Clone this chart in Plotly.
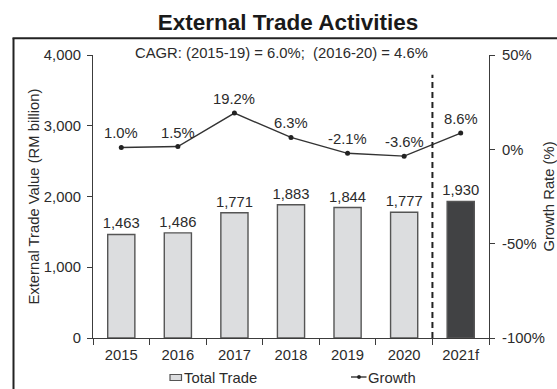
import plotly.graph_objects as go

# Data
years = ["2015", "2016", "2017", "2018", "2019", "2020", "2021f"]
total_trade = [1463, 1486, 1771, 1883, 1844, 1777, 1930]
growth = [1.0, 1.5, 19.2, 6.3, -2.1, -3.6, 8.6]
bar_colors = ["#dcdddf"] * 6 + ["#414244"]
left_ticks = [0, 1000, 2000, 3000, 4000]
right_ticks = [-100, -50, 0, 50]

FONT = "Liberation Sans, Arial, sans-serif"
TXT = "#2b2b2b"
AX = "#3c3c3c"
FS = 14.8

W, H = 557, 389
L, R, T, B = 93, 68, 55, 51
PW, PH = W - L - R, H - T - B


def px_x(px):
    return (px - L) / PW


def px_y(py):
    return (H - B - py) / PH


fig = go.Figure()

fig.add_trace(go.Bar(
    x=years, y=total_trade, name="Total Trade",
    marker=dict(color=bar_colors, line=dict(color="#555555", width=1.4)),
    width=0.48,
    text=[f"{v:,}" for v in total_trade], textposition="outside",
    constraintext="none",
    textfont=dict(size=FS, color=TXT, family=FONT),
    cliponaxis=False, showlegend=False,
))

fig.add_trace(go.Scatter(
    x=years, y=growth, yaxis="y2", name="Growth", mode="lines+markers",
    line=dict(color="#333333", width=1.4),
    marker=dict(color="#222222", size=5),
    showlegend=False,
))

annotations = []
for i, g in enumerate(growth):
    annotations.append(dict(
        x=i, y=g, xref="x", yref="y2", text=f"{g:.1f}%", showarrow=False,
        xanchor="center", yanchor="middle",
        yshift=14, font=dict(size=FS, color=TXT, family=FONT),
    ))

annotations += [
    dict(x=px_x(281.5), y=px_y(53), xref="paper", yref="paper",
         xanchor="center", yanchor="middle",
         text="CAGR: (2015-19) = 6.0%;&nbsp; (2016-20) = 4.6%",
         showarrow=False, font=dict(size=FS, color=TXT, family=FONT)),
    dict(x=px_x(182), y=px_y(377.5), xref="paper", yref="paper",
         xanchor="left", yanchor="middle", text="Total Trade", showarrow=False,
         font=dict(size=FS, color=TXT, family=FONT)),
    dict(x=px_x(366), y=px_y(377.5), xref="paper", yref="paper",
         xanchor="left", yanchor="middle", text="Growth", showarrow=False,
         font=dict(size=FS, color=TXT, family=FONT)),
]

shapes = [
    # forecast divider
    dict(type="line", xref="x", yref="y", x0=5.5, x1=5.5, y0=0, y1=3720,
         line=dict(color="#222222", width=2, dash="6px,4px")),
    # outer frame (left and top edges)
    dict(type="line", xref="paper", yref="paper", x0=px_x(13.5), x1=px_x(13.5),
         y0=px_y(420), y1=px_y(38.3), line=dict(color="#222222", width=2)),
    dict(type="line", xref="paper", yref="paper", x0=px_x(12.5), x1=px_x(600),
         y0=px_y(38.3), y1=px_y(38.3), line=dict(color="#222222", width=2)),
    # legend keys
    dict(type="rect", xref="paper", yref="paper", x0=px_x(170), x1=px_x(181.5),
         y0=px_y(380.5), y1=px_y(374.5), fillcolor="#dcdddf",
         line=dict(color="#555555", width=1.2)),
    dict(type="line", xref="paper", yref="paper", x0=px_x(351), x1=px_x(366.5),
         y0=px_y(377), y1=px_y(377), line=dict(color="#333333", width=1.4)),
    dict(type="circle", xref="paper", yref="paper", x0=px_x(357.3), x1=px_x(360.7),
         y0=px_y(378.7), y1=px_y(375.3), fillcolor="#222222",
         line=dict(color="#222222", width=0.5)),
]

fig.update_layout(
    width=W, height=H,
    margin=dict(l=L, r=R, t=T, b=B, pad=0, autoexpand=False),
    paper_bgcolor="white", plot_bgcolor="white",
    font=dict(family=FONT, color=TXT, size=FS),
    title=dict(text="<b>External Trade Activities</b>", x=288 / W, xanchor="center",
               y=(H - 22) / H, yanchor="middle", yref="container",
               font=dict(size=22.5, color="#1a1a1a", family=FONT)),
    xaxis=dict(
        type="category", showline=True, linecolor=AX, linewidth=1.3,
        ticks="outside", tickson="boundaries", ticklen=6, tickcolor=AX,
        tickwidth=1.3, showgrid=False, zeroline=False, ticklabelstandoff=3,
        automargin=False,
        tickfont=dict(size=FS, color=TXT), range=[-0.5, 6.5],
    ),
    yaxis=dict(
        range=[0, 4000], tickvals=left_ticks,
        ticktext=[f"{v:,}" for v in left_ticks],
        showline=True, linecolor=AX, linewidth=1.3,
        ticks="outside", ticklen=5, tickcolor=AX, tickwidth=1.3,
        ticklabelstandoff=3, automargin=False,
        showgrid=False, zeroline=False, tickfont=dict(size=FS, color=TXT),
        title=dict(text="External Trade Value (RM billion)", standoff=0,
                   font=dict(size=FS, color=TXT)),
    ),
    yaxis2=dict(
        overlaying="y", side="right", range=[-100, 50],
        tickvals=right_ticks, ticktext=[f"{v}%" for v in right_ticks],
        showline=True, linecolor=AX, linewidth=1.3,
        ticks="outside", ticklen=5, tickcolor=AX, tickwidth=1.3,
        ticklabelstandoff=4, automargin=False,
        showgrid=False, zeroline=False, tickfont=dict(size=FS, color=TXT),
        title=dict(text="Growth Rate (%)", standoff=11,
                   font=dict(size=FS, color=TXT)),
    ),
    annotations=annotations,
    shapes=shapes,
    showlegend=False,
    bargap=0.52,
)

fig.write_html("out.html")
